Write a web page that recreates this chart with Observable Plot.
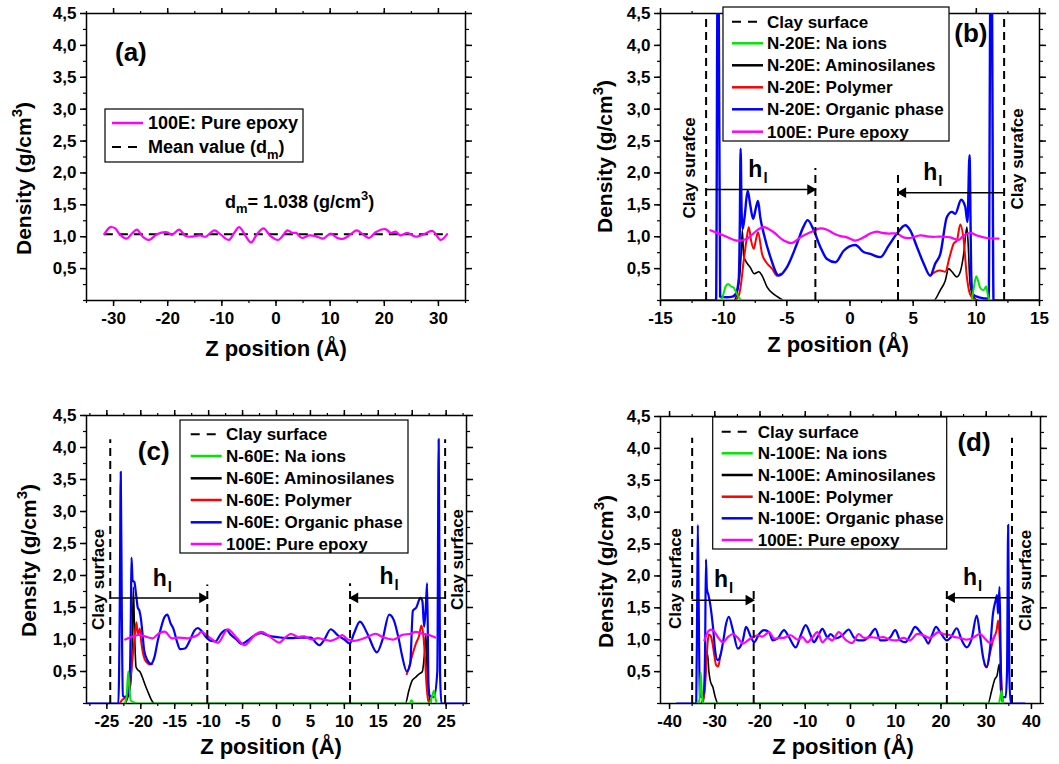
<!DOCTYPE html>
<html><head><meta charset="utf-8">
<script src="https://cdn.jsdelivr.net/npm/d3@7"></script>
<script src="https://cdn.jsdelivr.net/npm/@observablehq/plot@0.6"></script>
<style>
body{margin:0;background:#fff;}
#fig{position:relative;width:1059px;height:764px;overflow:hidden;background:#fff;}
#fig svg{position:absolute;}
</style></head><body><div id="fig"></div>
<script>
// ---------------- DATA ----------------
const yMajor = [0.5,1,1.5,2,2.5,3,3.5,4,4.5];
const yMinor = [0,0.25,0.5,0.75,1,1.25,1.5,1.75,2,2.25,2.5,2.75,3,3.25,3.5,3.75,4,4.25,4.5];
const aXMajor = [-30,-20,-10,0,10,20,30];
const aXMinor = [-35,-30,-25,-20,-15,-10,-5,0,5,10,15,20,25,30,35];
const bXMajor = [-15,-10,-5,0,5,10,15];
const bXMinor = [-15,-12.5,-10,-7.5,-5,-2.5,0,2.5,5,7.5,10,12.5,15];
const cXMajor = [-25,-20,-15,-10,-5,0,5,10,15,20,25];
const cXMinor = [-27.5,-25,-22.5,-20,-17.5,-15,-12.5,-10,-7.5,-5,-2.5,0,2.5,5,7.5,10,12.5,15,17.5,20,22.5,25,27.5];
const dXMajor = [-40,-30,-20,-10,0,10,20,30,40];
const dXMinor = [-40,-35,-30,-25,-20,-15,-10,-5,0,5,10,15,20,25,30,35,40];

// (a) pure epoxy
const aEpoxy = [[-31.7,1.04],[-30.6,1.15],[-29.7,1.13],[-28.8,1.03],[-27.6,0.97],[-26.6,1.05],[-25.7,1.11],[-24.6,1.0],[-23.4,0.95],[-22,1.04],[-20.1,1.07],[-19.2,1.03],[-17.9,1.11],[-16.7,1.01],[-15.8,1.0],[-14,1.02],[-13,1.0],[-11.4,1.1],[-10.3,1.04],[-8.7,0.95],[-7.8,1.05],[-6.8,1.15],[-5.6,1.01],[-4.6,0.91],[-3.5,1.04],[-2.3,1.13],[-1,1.01],[0.4,0.95],[1.1,1.0],[2.1,1.1],[3,1.06],[3.7,1.06],[4.8,0.98],[6.1,1.02],[7.3,1.01],[8.7,0.97],[10.1,1.05],[11.3,0.98],[12.5,0.97],[13.8,1.04],[14.9,1.1],[16,1.04],[17.2,0.98],[18.4,1.07],[20.2,1.12],[21.2,1.06],[22.1,1.08],[23,1.02],[24.2,1.06],[25.8,1.0],[27.3,1.04],[28.9,1.09],[30.4,0.95],[31.6,1.04]];
const aMean = [{x1:-31.7, x2:31.5, d:1.038}];

// (b) N-20E
const bOrganic = [[-15,0],[-10.6,0],[-10.48,5],[-10.4,5],[-10.28,0.06],[-9.8,0.05],[-9.3,0.06],[-9.0,0.12],[-8.8,0.35],[-8.72,1.2],[-8.66,2.38],[-8.58,1.4],[-8.5,1.12],[-8.35,1.3],[-8.1,1.72],[-7.9,1.5],[-7.67,1.28],[-7.45,1.45],[-7.28,1.56],[-7.1,1.3],[-6.83,1.05],[-6.3,0.68],[-5.64,0.39],[-5.0,0.52],[-4.2,0.89],[-3.7,1.15],[-3.35,1.26],[-2.87,1.1],[-2.35,0.84],[-1.82,0.65],[-1.16,0.6],[-0.5,0.78],[0.42,0.87],[1.08,0.76],[1.6,0.73],[2.4,0.68],[3.06,0.86],[3.72,1.05],[4.38,1.18],[4.77,1.1],[5.3,0.84],[5.83,0.58],[6.35,0.39],[6.75,0.58],[7.15,0.73],[7.67,1.31],[8.07,1.39],[8.33,1.36],[8.8,1.58],[9.12,1.47],[9.3,1.23],[9.46,2.28],[9.6,0.4],[9.7,0.1],[10.2,0.05],[10.98,0.03],[11.12,5],[11.22,5],[11.36,0],[15,0]];
const bPolymerL = [[-9.1,0],[-8.8,0.08],[-8.67,0.2],[-8.41,0.63],[-8.2,0.94],[-8.01,1.15],[-7.83,0.94],[-7.62,0.81],[-7.45,0.95],[-7.28,1.07],[-6.96,0.73],[-6.56,0.58],[-6.17,0.5],[-5.77,0.39],[-5.5,0.42]];
const bPolymerR = [[6.35,0.39],[6.75,0.45],[7.14,0.47],[7.54,0.45],[7.88,0.68],[8.2,0.89],[8.46,0.94],[8.73,1.19],[9.0,0.94],[9.25,0.37],[9.5,0.1],[9.78,0.03],[10.0,0]];
const bAmino = [[-15,0],[-9.2,0],[-8.9,0.16],[-8.7,0.45],[-8.6,0.8],[-8.52,1.1],[-8.42,0.7],[-8.2,0.6],[-7.9,0.52],[-7.57,0.42],[-7.22,0.45],[-6.96,0.39],[-6.56,0.21],[-6.04,0.1],[-5.5,0.03],[-5.25,0],[6.62,0],[7.14,0.16],[7.54,0.31],[7.8,0.5],[8.07,0.45],[8.46,0.37],[8.73,0.45],[9.0,0.73],[9.25,1.15],[9.35,0.9],[9.5,0.26],[9.78,0.05],[10.2,0],[15,0]];
const bNa = [[-10.3,0],[-10.1,0.05],[-9.85,0.22],[-9.65,0.26],[-9.4,0.22],[-9.2,0.2],[-8.95,0.1],[-8.7,0.02],[-8.5,0],[9.6,0],[9.8,0.2],[9.99,0.38],[10.15,0.3],[10.3,0.2],[10.57,0.16],[10.78,0.22],[10.9,0.1],[11.0,0]];
const bEpoxy = [[-11.05,1.1],[-10,1.02],[-8.94,0.94],[-8.15,0.97],[-7.36,1.1],[-6.83,1.15],[-6.04,1.07],[-5.25,0.94],[-4.59,0.9],[-3.93,0.99],[-3.14,1.07],[-2.35,1.13],[-1.82,1.11],[-1.29,1.05],[-0.76,1.01],[-0.24,0.99],[0.42,0.94],[1.08,0.99],[1.6,1.05],[2.14,1.08],[2.53,1.06],[3.06,1.05],[3.72,1.05],[4.24,0.99],[4.77,0.98],[5.56,1.02],[6.35,1.0],[7.15,1.0],[7.94,0.99],[8.6,0.95],[9.0,1.02],[9.52,1.06],[10.05,1.02],[10.84,0.98],[11.76,0.97]];

// (c) N-60E
const cOrganic = [[-28,0],[-23.3,0],[-23.1,1.5],[-22.95,3.62],[-22.8,1.5],[-22.65,0.12],[-22.3,0.1],[-21.9,0.15],[-21.6,0.5],[-21.45,1.5],[-21.37,2.28],[-21.2,1.92],[-20.95,1.9],[-20.7,1.71],[-20.45,1.5],[-20.2,1.45],[-19.95,1.3],[-19.7,1.04],[-19.5,0.83],[-19.0,0.67],[-18.5,0.62],[-18.0,0.72],[-17.5,0.98],[-17.0,1.19],[-16.5,1.35],[-16.1,1.39],[-15.6,1.25],[-15.2,1.17],[-14.7,0.98],[-14.2,0.85],[-13.5,0.86],[-12.8,0.98],[-12.1,1.14],[-11.6,1.18],[-11.1,1.14],[-10.4,1.04],[-9.7,0.98],[-9.0,0.97],[-8.2,1.09],[-7.4,1.15],[-6.7,1.07],[-5.9,1.0],[-5.2,0.93],[-4.3,0.98],[-3.3,1.06],[-2.3,1.1],[-1.2,1.06],[-0.2,1.04],[0.7,1.03],[2.1,1.02],[3.6,1.03],[5.1,1.03],[5.8,0.95],[6.3,0.91],[7.0,0.99],[8.0,1.16],[9.0,1.07],[10.0,1.0],[10.8,0.94],[11.4,1.09],[12.3,1.28],[13.4,1.09],[14.8,0.8],[15.6,0.99],[16.6,1.39],[17.3,1.3],[18.05,0.99],[18.5,0.75],[19.2,0.5],[19.7,0.62],[20.1,1.45],[20.6,1.5],[21.2,1.65],[21.5,1.6],[21.75,1.2],[22.0,1.5],[22.2,1.88],[22.4,0.3],[22.6,0.12],[23.2,0.1],[23.7,0.5],[23.9,4.13],[24.1,0.5],[24.3,0],[28,0]];
const cPolymerL = [[-23.1,0],[-22.8,0.05],[-22.2,0.1],[-21.7,0.25],[-21.1,0.83],[-20.85,1.1],[-20.64,1.27],[-20.45,1.09],[-20.3,1.12],[-20.15,1.17],[-19.95,0.98],[-19.6,0.75],[-19.2,0.65],[-18.6,0.61],[-18.3,0.62]];
const cPolymerR = [[19.2,0.46],[19.5,0.55],[20.0,0.75],[20.6,0.95],[21.0,1.05],[21.35,1.22],[21.6,1.1],[21.85,0.78],[22.1,0.3],[22.35,0.05],[22.6,0]];
const cAmino = [[-22.3,0],[-21.9,0.1],[-21.5,0.3],[-21.25,0.9],[-21.1,1.82],[-20.9,1.04],[-20.7,0.57],[-20.4,0.52],[-20.15,0.5],[-19.7,0.39],[-19.4,0.3],[-18.9,0.17],[-18.4,0.05],[-18.0,0],[19.0,0],[19.5,0.2],[20.0,0.36],[20.5,0.41],[21.0,0.46],[21.5,0.5],[21.8,0.78],[22.0,1.09],[22.2,0.5],[22.45,0.15],[22.8,0]];
const cNa = [[-22.4,0],[-22.1,0.1],[-21.85,0.5],[-21.7,0.3],[-21.5,0.05],[-21.0,0.02],[-20.5,0],[19.6,0],[19.9,0.05],[20.2,0],[22.6,0],[22.9,0.1],[23.2,0.2],[23.4,0.1],[23.6,0]];
const cEpoxy = [[-22.3,1.0],[-21.4,1.04],[-20.4,1.07],[-19.4,1.05],[-18.2,1.02],[-17.4,1.09],[-16.4,1.12],[-15.5,1.02],[-14.5,1.03],[-13.0,1.02],[-11.6,1.07],[-11.1,1.12],[-9.85,1.03],[-8.6,0.95],[-7.2,1.16],[-5.9,1.03],[-4.7,0.91],[-3.2,1.07],[-2.25,1.12],[-1.3,1.07],[-0.3,0.99],[0.4,0.95],[1.4,1.04],[2.1,1.09],[3.1,1.04],[4.1,1.05],[5.1,1.0],[6.1,1.02],[7.0,1.0],[8.0,0.98],[9.0,1.02],[9.7,1.07],[10.5,1.0],[11.4,0.98],[12.4,1.0],[13.4,1.04],[14.6,1.09],[15.8,1.03],[17.3,1.0],[18.5,1.07],[19.8,1.09],[20.5,1.12],[21.5,1.09],[22.5,1.07],[23.4,1.03]];

// (d) N-100E
const dOrganic = [[-38.4,0],[-34.1,0],[-33.9,1.5],[-33.75,2.8],[-33.55,1.5],[-33.3,0.12],[-32.8,0.1],[-32.4,0.2],[-32.15,0.8],[-31.95,2.26],[-31.75,1.8],[-31.4,1.7],[-31.0,1.55],[-30.4,1.2],[-29.9,0.82],[-29.4,0.68],[-29.0,0.7],[-28.2,0.95],[-27.5,1.25],[-26.9,1.36],[-26.0,1.15],[-24.9,0.86],[-23.8,0.99],[-23.1,1.2],[-22.0,1.04],[-21.3,0.96],[-20.2,1.09],[-19.1,1.15],[-18.0,1.12],[-17.2,0.99],[-16.1,1.02],[-14.7,1.15],[-13.6,1.04],[-12.1,0.88],[-11.0,1.07],[-9.9,1.23],[-8.8,1.07],[-8.1,0.96],[-7.3,1.04],[-6.2,1.17],[-5.1,1.04],[-4.4,1.09],[-3.3,1.02],[-1.8,1.07],[-0.4,1.16],[0.7,1.04],[1.8,0.99],[2.9,0.99],[4.0,1.04],[5.5,1.17],[6.6,0.99],[7.7,0.99],[8.8,1.04],[9.9,1.15],[11.0,0.99],[12.1,0.96],[13.2,1.07],[14.3,1.2],[15.4,1.12],[16.5,1.02],[17.2,0.94],[18.0,1.07],[18.9,1.2],[19.8,1.12],[21.3,0.99],[22.2,1.04],[23.5,1.18],[24.6,0.99],[25.7,0.88],[26.8,1.02],[27.9,1.38],[28.6,1.09],[29.3,0.73],[30.1,0.57],[30.8,0.83],[31.5,1.41],[32.1,1.62],[32.4,1.7],[32.6,1.41],[32.95,1.83],[33.25,0.5],[33.5,0.1],[34.3,0.1],[34.6,0.5],[34.85,2.8],[35.1,0.5],[35.4,0],[38.5,0]];
const dPolymerL = [[-33.0,0],[-32.3,0.15],[-31.9,0.57],[-31.6,0.94],[-31.3,1.08],[-30.9,1.06],[-30.5,0.94],[-30.1,0.75],[-29.7,0.6],[-29.3,0.58],[-29.0,0.65],[-28.8,0.76]];
const dPolymerR = [[29.6,0.62],[30.1,0.57],[30.8,0.78],[31.5,0.99],[32.3,1.15],[32.65,1.3],[33.0,0.99],[33.4,0.25],[33.75,0]];
const dAmino = [[-34,0],[-32.6,0],[-32.2,0.3],[-31.9,0.67],[-31.6,0.78],[-31.3,0.5],[-31.0,0.36],[-30.4,0.25],[-29.9,0.1],[-29.3,0],[30.4,0],[31.2,0.2],[31.9,0.38],[32.4,0.44],[32.9,0.62],[33.2,0.2],[33.75,0],[35,0]];
const dNa = [[-34,0],[-33.4,0.05],[-33.1,0.49],[-32.8,0.1],[-32.5,0],[32.8,0],[33.1,0.1],[33.4,0.2],[33.6,0.05],[33.8,0]];
const dEpoxy = [[-32.3,0.99],[-31.2,1.15],[-30.4,1.15],[-29.3,1.04],[-28.2,0.96],[-27.1,1.04],[-26.0,1.09],[-24.9,1.03],[-23.8,0.94],[-22.7,0.99],[-21.6,1.04],[-20.5,1.07],[-19.4,1.05],[-18.0,1.12],[-16.9,1.02],[-15.8,1.03],[-14.7,1.03],[-13.2,1.07],[-11.7,1.0],[-10.6,1.04],[-9.5,0.96],[-8.4,1.04],[-7.3,1.12],[-6.2,0.96],[-5.1,1.03],[-4.0,0.99],[-2.6,1.12],[-1.1,1.0],[0.4,0.95],[1.8,1.09],[2.9,1.03],[4.4,1.04],[5.9,1.03],[7.3,1.04],[8.8,1.0],[10.3,0.99],[11.7,1.03],[13.2,0.99],[14.7,1.09],[16.1,1.07],[17.6,1.03],[19.4,1.12],[20.5,1.09],[22.0,1.07],[23.1,1.04],[24.2,1.03],[25.7,1.0],[27.1,1.03],[28.6,1.09],[29.7,1.02],[30.8,0.95],[31.9,1.07]];

// annotations
const bClay = [{x:-11.39, top:4.43},{x:12.2, top:4.43}];
const bHl = [{x:-2.74, top:2.07},{x:3.8, top:2.04}];
const bArrows = [{x1:-11.39, x2:-2.74, y:1.74},{x1:12.2, x2:3.8, y:1.69}];
const bClayText = [{x:-12.68, y:2.08, t:"Clay surafce"},{x:13.26, y:2.22, t:"Clay surafce"}];
const bHlText = [{x:-7.49, y:1.94},{x:6.35, y:1.89}];
const cClay = [{x:-24.5, top:4.12},{x:24.85, top:4.12}];
const cHl = [{x:-10.2, top:1.85},{x:10.84, top:1.87}];
const cArrows = [{x1:-24.5, x2:-10.2, y:1.65},{x1:24.85, x2:10.84, y:1.65}];
const cClayText = [{x:-26.2, y:1.94, t:"Clay surface"},{x:26.7, y:2.25, t:"Clay surface"}];
const cHlText = [{x:-17.2, y:1.84},{x:16.2, y:1.86}];
const dClay = [{x:-35.0, top:4.16},{x:35.7, top:4.16}];
const dHl = [{x:-21.4, top:1.8},{x:21.3, top:1.8}];
const dArrows = [{x1:-35.0, x2:-21.4, y:1.62},{x1:35.7, x2:21.3, y:1.66}];
const dClayText = [{x:-38.7, y:1.96, t:"Clay surface"},{x:38.7, y:1.93, t:"Clay surface"}];
const dHlText = [{x:-28.6, y:1.83},{x:26.4, y:1.86}];
const tags = {a:{x:-26.8,y:3.89,t:"(a)"}, b:{x:9.57,y:4.19,t:"(b)"}, c:{x:-18.1,y:3.94,t:"(c)"}, d:{x:27.3,y:4.09,t:"(d)"}};

const legendSuffix = ["Na ions","Aminosilanes","Polymer","Organic phase"];

// ---------------- DRAWING ----------------
const FONT = '"Liberation Sans", Arial, Helvetica, sans-serif';
const COL = {na:"#00e600", amino:"#000000", poly:"#ff0000", org:"#0000ff", epoxy:"#ff00ff"};
const fig = document.getElementById("fig");
const yFmt = d => d.toFixed(1).replace(".", ",");

function axes(xMajor, xMinor){
  const blank = () => "";
  return [
    Plot.axisX({anchor:"bottom", ticks:xMajor, tickSize:6, tickPadding:5, tickFormat:d=>String(d), label:null, strokeWidth:1.5}),
    Plot.axisX({anchor:"bottom", ticks:xMinor, tickSize:3, tickFormat:blank, label:null, strokeWidth:1.2}),
    Plot.axisX({anchor:"top", ticks:xMajor, tickSize:6, tickFormat:blank, label:null, strokeWidth:1.5}),
    Plot.axisX({anchor:"top", ticks:xMinor, tickSize:3, tickFormat:blank, label:null, strokeWidth:1.2}),
    Plot.axisY({anchor:"left", ticks:yMajor, tickSize:6, tickPadding:4, tickFormat:yFmt, label:null, strokeWidth:1.5}),
    Plot.axisY({anchor:"left", ticks:yMinor, tickSize:3, tickFormat:blank, label:null, strokeWidth:1.2}),
    Plot.axisY({anchor:"right", ticks:yMajor, tickSize:6, tickFormat:blank, label:null, strokeWidth:1.5}),
    Plot.axisY({anchor:"right", ticks:yMinor, tickSize:3, tickFormat:blank, label:null, strokeWidth:1.2}),
    Plot.frame({stroke:"black", strokeWidth:1.5})
  ];
}
function ln(data, color, width, curve="monotone-x"){
  return Plot.line(data, {x:d=>d[0], y:d=>d[1], stroke:color, strokeWidth:width, curve, clip:true});
}
function annot(clay, hl, arrows, clayText, hlText){
  return [
    Plot.ruleX(clay, {x:"x", y1:0, y2:"top", stroke:"black", strokeWidth:2, strokeDasharray:"8,5"}),
    Plot.ruleX(hl, {x:"x", y1:0, y2:"top", stroke:"black", strokeWidth:2, strokeDasharray:"8,5"}),
    Plot.ruleY(arrows, {x1:"x1", x2:"x2", y:"y", stroke:"black", strokeWidth:1.5}),
    Plot.dot(arrows.filter(d=>d.x2>d.x1), {x:"x2", y:"y", symbol:"triangle", r:4, fill:"black", stroke:null, rotate:90, dx:-5}),
    Plot.dot(arrows.filter(d=>d.x2<d.x1), {x:"x2", y:"y", symbol:"triangle", r:4, fill:"black", stroke:null, rotate:-90, dx:5}),
    Plot.text(clayText, {x:"x", y:"y", text:"t", rotate:-90, fontSize:17, fontWeight:"bold", textAnchor:"middle", lineAnchor:"middle", fill:"black"}),
    Plot.text(hlText, {x:"x", y:"y", text:()=>"h", fontSize:23, fontWeight:"bold", textAnchor:"middle", lineAnchor:"bottom", fill:"black"}),
    Plot.text(hlText, {x:"x", y:"y", text:()=>"l", fontSize:15, fontWeight:"bold", textAnchor:"start", lineAnchor:"bottom", dx:8, dy:6, fill:"black"})
  ];
}
function tagMark(t){
  return Plot.text([t], {x:"x", y:"y", text:"t", fontSize:26, fontWeight:"bold", textAnchor:"middle", lineAnchor:"middle", fill:"black"});
}
function plotBase(o){
  return Plot.plot({
    width:o.width, height:380,
    marginLeft:o.ml, marginRight:o.mr, marginTop:o.mt, marginBottom:o.mb,
    x:{domain:o.xd, label:null}, y:{domain:[0,4.5], label:null},
    style:{fontFamily:FONT, fontSize:"17px", fontWeight:"bold", color:"black", background:"white", overflow:"visible"},
    marks:o.marks
  });
}
function place(svg, left, top){ svg.style.left = left+"px"; svg.style.top = top+"px"; fig.appendChild(svg); }

function rich(svg, x, y, parts, {size=17, anchor="start", rotate=0}={}){
  const t = d3.select(svg).append("text")
    .attr("transform", `translate(${x},${y})` + (rotate ? ` rotate(${rotate})` : ""))
    .attr("text-anchor", anchor).attr("font-size", size).attr("font-weight", "bold")
    .attr("font-family", FONT).attr("fill", "black");
  let shift = 0;
  for (const p of parts){
    const o = typeof p === "string" ? {t:p} : p;
    const target = o.sup ? -0.45*size : o.sub ? 0.3*size : 0;
    const s = t.append("tspan").text(o.t).attr("dy", target - shift);
    if (o.sup || o.sub) s.attr("font-size", size*0.72);
    shift = target;
  }
  return t;
}
const yLabelParts = ["Density (g/cm", {t:"3", sup:true}, ")"];
const xLabelParts = ["Z position (Å)"];

function legend(svg, box, rows, lx1, lx2, tx, items, size){
  const g = d3.select(svg).append("g");
  g.append("rect").attr("x", box[0]).attr("y", box[1]).attr("width", box[2]).attr("height", box[3])
    .attr("fill", "white").attr("stroke", "black").attr("stroke-width", 1.2);
  items.forEach((it, i) => {
    const y = rows[i];
    g.append("line").attr("x1", lx1).attr("x2", lx2).attr("y1", y).attr("y2", y)
      .attr("stroke", it.color).attr("stroke-width", it.dash ? 2 : 2.5)
      .attr("stroke-dasharray", it.dash ? "9,7" : null);
    rich(svg, tx, y + size*0.36, it.parts, {size});
  });
}
function items(prefix){
  return [
    {color:"black", dash:true, parts:["Clay surface"]},
    {color:COL.na, parts:[prefix + ": " + legendSuffix[0]]},
    {color:COL.amino, parts:[prefix + ": " + legendSuffix[1]]},
    {color:COL.poly, parts:[prefix + ": " + legendSuffix[2]]},
    {color:COL.org, parts:[prefix + ": " + legendSuffix[3]]},
    {color:COL.epoxy, parts:["100E: Pure epoxy"]}
  ];
}

// ---- panel (a)
const pa = plotBase({width:530, ml:86, mr:65, mt:13, mb:80, xd:[-35,35], marks:[
  ...axes(aXMajor, aXMinor),
  Plot.ruleY(aMean, {x1:"x1", x2:"x2", y:"d", stroke:"black", strokeWidth:2, strokeDasharray:"9,6"}),
  ln(aEpoxy, COL.epoxy, 2.2, "catmull-rom"),
  tagMark(tags.a)
]});
place(pa, 0, 0);
rich(pa, 31, 255, yLabelParts, {size:21, rotate:-90});
rich(pa, 276, 356, xLabelParts, {size:22, anchor:"middle"});
rich(pa, 225, 208, ["d", {t:"m", sub:true}, "= 1.038 (g/cm", {t:"3", sup:true}, ")"], {size:18});
legend(pa, [105,109,198,53], [123,147], 112, 143, 148, [
  {color:COL.epoxy, parts:["100E: Pure epoxy"]},
  {color:"black", dash:true, parts:["Mean value (d", {t:"m", sub:true}, ")"]}
], 18);

// ---- panel (b)
const pb = plotBase({width:529, ml:130, mr:20, mt:13, mb:80, xd:[-15,15], marks:[
  ...axes(bXMajor, bXMinor),
  ln(bAmino, COL.amino, 1.6), ln(bPolymerL, COL.poly, 2), ln(bPolymerR, COL.poly, 2),
  ln(bOrganic, COL.org, 2.4), ln(bNa, COL.na, 2), ln(bEpoxy, COL.epoxy, 2.2, "catmull-rom"),
  ...annot(bClay, bHl, bArrows, bClayText, bHlText),
  tagMark(tags.b)
]});
place(pb, 530, 0);
rich(pb, 82, 233, yLabelParts, {size:21, rotate:-90});
rich(pb, 308, 352, xLabelParts, {size:22, anchor:"middle"});
legend(pb, [193,7,226,134], [21.7,43.3,65.3,87.3,109.3,131.7], 202, 233, 237, items("N-20E"), 17);

// ---- panel (c)
const pc = plotBase({width:530, ml:86, mr:64, mt:31, mb:61, xd:[-28,28], marks:[
  ...axes(cXMajor, cXMinor),
  ln(cAmino, COL.amino, 1.6), ln(cPolymerL, COL.poly, 2), ln(cPolymerR, COL.poly, 2),
  ln(cOrganic, COL.org, 2.2), ln(cNa, COL.na, 2), ln(cEpoxy, COL.epoxy, 2.2, "catmull-rom"),
  ...annot(cClay, cHl, cArrows, cClayText, cHlText),
  tagMark(tags.c)
]});
place(pc, 0, 384);
rich(pc, 36, 253, yLabelParts, {size:21, rotate:-90});
rich(pc, 271, 370, xLabelParts, {size:22, anchor:"middle"});
legend(pc, [180,36,228,133], [50.3,72,94.3,116,138.3,160], 190.7, 221.7, 226, items("N-60E"), 17);

// ---- panel (d)
const pd = plotBase({width:529, ml:130, mr:19, mt:32, mb:61, xd:[-42,42], marks:[
  ...axes(dXMajor, dXMinor),
  ln(dAmino, COL.amino, 1.6), ln(dPolymerL, COL.poly, 2), ln(dPolymerR, COL.poly, 2),
  ln(dOrganic, COL.org, 2.2), ln(dNa, COL.na, 2), ln(dEpoxy, COL.epoxy, 2.2, "catmull-rom"),
  ...annot(dClay, dHl, dArrows, dClayText, dHlText),
  tagMark(tags.d)
]});
place(pd, 530, 384);
rich(pd, 83, 264, yLabelParts, {size:21, rotate:-90});
rich(pd, 313, 370, xLabelParts, {size:22, anchor:"middle"});
legend(pd, [182.7,33,234,132], [47.7,69.3,91,112.7,134.3,156], 191.7, 222.7, 227.7, items("N-100E"), 17);
</script></body></html>
